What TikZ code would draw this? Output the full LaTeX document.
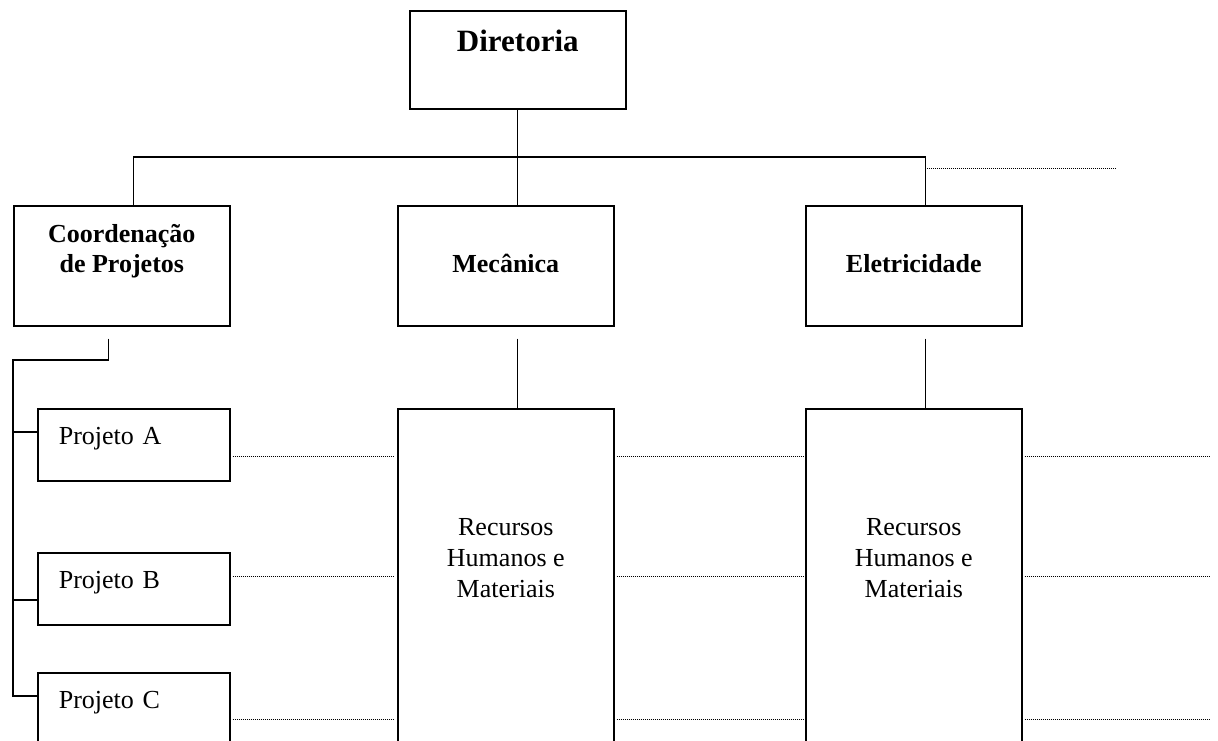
\documentclass[tikz,border=0pt]{standalone}
\usepackage{fontspec}
\setmainfont{Liberation Serif}
\usetikzlibrary{calc,positioning}
\tikzset{
  unit/.style={draw, line width=1.6pt, rectangle, anchor=north west, inner sep=0pt,
    align=center, minimum width=216pt, font=\bfseries\fontsize{26}{30}\selectfont},
  project/.style={draw, line width=1.6pt, rectangle, anchor=north west, inner ysep=0pt,
    inner xsep=21pt, text width=150pt, align=left, text height=36pt, text depth=36pt,
    font=\fontsize{26}{30}\selectfont},
  pool/.style={draw, line width=1.6pt, rectangle, anchor=north west, inner sep=0pt,
    align=center, minimum width=216pt, text height=189pt, text depth=151pt,
    font=\fontsize{26}{31}\selectfont},
  link/.style={line width=1.2pt},
  guide/.style={line width=1pt, dash pattern=on 1pt off 1pt},
}
\begin{document}
\begin{tikzpicture}[x=1pt,y=-1pt]
  \useasboundingbox (0,0) rectangle (1218,740);
  \clip (0,0) rectangle (1218,740);

  % Boxes
  \node[unit, text height=41pt, text depth=57pt, font=\bfseries\fontsize{31}{36}\selectfont]
    (dir) at (409,10) {Diretoria};
  \node[unit, text height=67pt, text depth=53pt] (coord) at (13,205) {Coordenação\\de Projetos};
  \node[unit, text height=67pt, text depth=53pt] (mec) at (397,205) {Mecânica};
  \node[unit, text height=67pt, text depth=53pt] (ele) at (805,205) {Eletricidade};

  \node[project] (pa) at (37,408) {Projeto A};
  \node[project] (pb) at (37,552) {Projeto B};
  \node[project] (pc) at (37,672) {Projeto C};

  \node[pool] (rm) at (397,408) {Recursos\\Humanos e\\Materiais};
  \node[pool] (re) at (805,408) {Recursos\\Humanos e\\Materiais};

  % Hierarchy
  \coordinate (bus) at (dir.south |- 0,157);
  \coordinate (dropE) at ([xshift=12pt]ele.north);
  \draw[link] (dir.south) -- (bus);
  \draw[link] ([xshift=12pt]coord.north) |- (bus) -| (dropE);
  \draw[link] (bus) -- (bus |- mec.north);
  \draw[link] ([xshift=12pt,yshift=-12pt]mec.south) -- ([xshift=12pt]rm.north);
  \draw[link] ([xshift=12pt,yshift=-12pt]ele.south) -- ([xshift=12pt]re.north);

  % Project bracket
  \coordinate (brk) at ([xshift=-13pt,yshift=-12pt]coord.south);
  \coordinate (spine) at (13,360);
  \draw[link] (brk) |- (spine) |- ([yshift=-24pt]pc.north west);
  \draw[link] (spine |- 0,432) -- ([yshift=-24pt]pa.north west);
  \draw[link] (spine |- 0,600) -- ([yshift=-48pt]pb.north west);

  % Matrix guides
  \coordinate (edge) at (1210,0);
  \draw[guide] ([xshift=1pt]dropE |- 0,168) -- (1115,168);
  \foreach \y in {456,576,719} {
    \draw[guide] ([xshift=2pt]pa.east |- 0,\y) -- ([xshift=-4pt]rm.west |- 0,\y);
    \draw[guide] ([xshift=2pt]rm.east |- 0,\y) -- ([xshift=-2pt]re.west |- 0,\y);
    \draw[guide] ([xshift=2pt]re.east |- 0,\y) -- (edge |- 0,\y);
  }
\end{tikzpicture}
\end{document}
